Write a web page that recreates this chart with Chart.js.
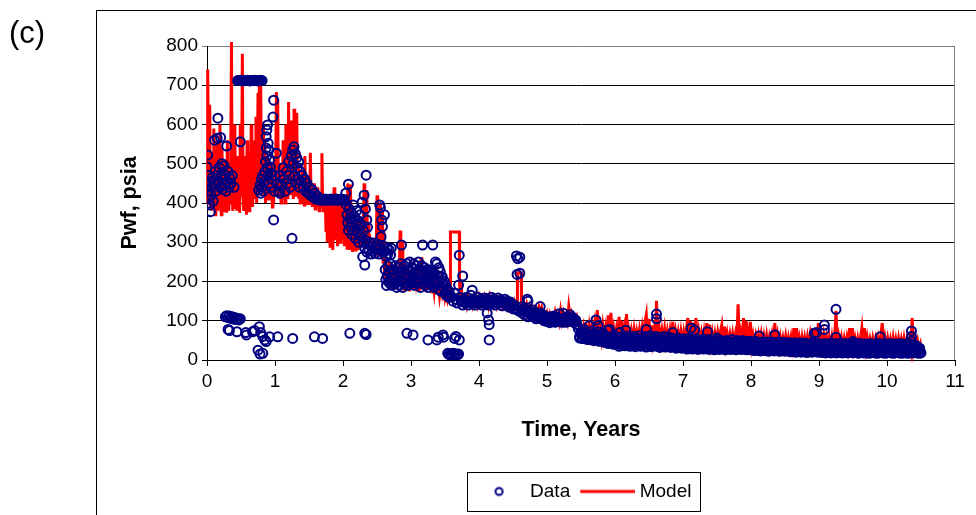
<!DOCTYPE html>
<html>
<head>
<meta charset="utf-8">
<script src="https://cdn.jsdelivr.net/npm/chart.js@4/dist/chart.umd.min.js"></script>
<style>
  body { margin: 0; background: #fff; }
  canvas { display: block; }
</style>
</head>
<body>
<canvas id="pwfChart" width="976" height="515"></canvas>
<script>
// Measured bottomhole pressure, [time in years, Pwf in psia]
const dataEarly = [
  [0.00,445],[0.00,492],[0.01,522],[0.02,470],[0.02,430],[0.03,410],[0.04,395],[0.05,378],[0.05,455],[0.06,420],
  [0.07,440],[0.08,465],[0.09,405],[0.10,450],[0.11,560],[0.12,480],[0.13,430],[0.14,470],[0.15,565],[0.16,616],
  [0.17,455],[0.18,490],[0.19,440],[0.20,567],[0.21,470],[0.22,500],[0.23,435],[0.24,460],[0.25,495],[0.26,445],
  [0.27,470],[0.28,430],[0.29,545],[0.30,455],[0.31,480],[0.32,440],[0.33,465],[0.35,450],[0.37,470],[0.40,440],
  [0.49,556],
  [0.45,712],[0.47,712],[0.49,713],[0.51,712],[0.53,711],[0.55,712],[0.57,712],[0.59,713],[0.61,712],[0.63,711],
  [0.65,712],[0.67,712],[0.69,712],[0.71,713],[0.73,712],[0.75,711],[0.77,712],[0.79,713],[0.81,712],
  [0.76,433],[0.78,445],[0.79,425],[0.80,460],[0.81,440],[0.82,470],[0.83,430],[0.84,455],[0.85,480],[0.86,505],
  [0.87,569],[0.87,540],[0.88,586],[0.88,520],[0.89,599],[0.89,490],[0.90,552],[0.90,470],[0.91,535],[0.91,450],
  [0.92,509],[0.93,492],[0.94,476],[0.95,440],[0.96,460],[0.97,619],[0.98,662],[0.98,357],[0.99,430],[1.00,470],
  [1.02,527],[1.03,450],[1.05,430],[1.07,425],
  [1.08,470],[1.10,445],[1.12,490],[1.13,460],[1.15,430],[1.17,480],[1.18,450],[1.20,505],[1.21,470],[1.22,440],
  [1.24,520],[1.25,310],[1.26,535],[1.27,500],[1.28,543],[1.29,470],[1.30,525],[1.31,450],[1.32,515],[1.33,490],
  [1.34,460],[1.35,505],[1.36,440],[1.37,480],[1.38,455],[1.40,470],[1.42,440],[1.44,460],[1.45,430],[1.47,450],
  [1.49,425],[1.50,440],[1.52,420],[1.54,435],[1.56,415],[1.58,425],[1.60,410],[1.62,418],
  [1.64,408],[1.66,410],[1.68,407],[1.70,409],[1.72,408],[1.74,410],[1.76,407],[1.78,409],[1.80,408],[1.82,410],
  [1.84,407],[1.86,409],[1.88,408],[1.90,410],[1.92,407],[1.94,409],[1.96,408],[1.98,410],[2.00,407],[2.02,409]
];

const dataMid = [
  [2.04,425],[2.05,395],[2.06,370],[2.07,350],[2.08,448],[2.08,330],[2.09,385],[2.10,360],[2.11,340],[2.12,375],
  [2.13,320],[2.14,350],[2.15,395],[2.16,330],[2.17,365],[2.18,310],[2.19,345],[2.20,380],[2.21,325],[2.22,355],
  [2.23,300],[2.24,340],[2.25,370],[2.26,315],[2.27,345],[2.28,402],[2.29,263],[2.30,330],[2.31,420],[2.32,242],
  [2.33,385],[2.34,471],[2.35,357],[2.36,338],
  [2.30,300],[2.32,285],[2.33,305],[2.35,275],[2.36,295],[2.38,280],[2.39,300],[2.41,270],[2.42,290],[2.44,278],
  [2.45,298],[2.47,272],[2.48,288],[2.50,280],[2.51,295],[2.53,270],[2.54,395],[2.55,388],[2.55,285],[2.56,314],
  [2.57,357],[2.58,340],[2.58,275],[2.60,290],[2.61,370],[2.62,278],[2.63,265],[2.65,285],[2.66,270],[2.68,280],
  [2.70,268],
  [2.62,230],[2.63,205],[2.64,190],[2.65,215],[2.66,240],[2.67,200],[2.68,225],[2.69,195],[2.70,245],[2.71,210],
  [2.71,285],[2.72,190],[2.73,230],[2.74,205],[2.75,220],[2.76,195],[2.77,240],[2.78,210],[2.79,185],[2.80,225],
  [2.81,200],[2.82,235],[2.83,190],[2.84,215],[2.85,245],[2.86,293],[2.86,200],[2.87,225],[2.88,185],[2.89,210],
  [2.90,240],[2.91,195],[2.92,220],[2.93,205],[2.94,245],[2.95,190],[2.96,230],[2.97,210],[2.98,250],[2.99,195],
  [3.00,225],[3.01,200],[3.02,235],[3.03,215],[3.04,245],[3.05,190],[3.06,225],[3.07,205],[3.08,240],[3.09,195],
  [3.10,220],[3.11,250],[3.12,200],[3.13,230],[3.14,185],[3.15,215],[3.16,240],[3.17,293],[3.17,195],[3.18,225],
  [3.19,205],[3.20,235],[3.21,190],[3.22,215],[3.23,200],[3.24,230],[3.25,185],[3.26,210],[3.27,225],[3.28,195],
  [3.29,215],[3.30,230],[3.31,190],[3.32,293],[3.32,210],[3.33,222],[3.34,185],[3.35,205],[3.36,250],[3.37,195],
  [3.38,245],[3.39,215],[3.40,180],[3.41,235],[3.42,200],[3.43,225],[3.44,175],[3.45,210],[3.46,212],[3.47,195],
  [3.48,185],[3.49,200],[3.50,170],[3.51,190],[3.52,165],[3.53,180],[3.55,160],[3.56,175],
  [3.57,165],[3.60,160],[3.62,150],[3.64,170],[3.66,155],[3.68,145],[3.70,191],[3.71,267],[3.72,160],[3.74,150],
  [3.76,214],[3.76,140],[3.78,155],[3.80,145],[3.82,160],[3.84,140],[3.86,150],[3.88,165],[3.90,178],[3.90,145],
  [3.92,155],[3.94,140],[3.96,150],[3.98,160],[4.00,145],[4.02,155],[4.04,140],[4.06,150],[4.08,158],[4.10,145],
  [4.12,120],[4.12,155],[4.14,102],[4.14,140],[4.15,90],[4.16,150],[4.18,160],[4.20,145],[4.22,155],[4.24,140],
  [4.26,150],[4.28,158],[4.30,145],[4.32,152],[4.34,138],[4.36,148],[4.38,155],[4.40,142],[4.42,150],[4.44,135],
  [4.46,148],[4.48,140],[4.50,130],
  [4.52,140],[4.54,130],[4.55,265],[4.56,218],[4.57,258],[4.58,125],[4.60,262],[4.60,221],[4.62,135],[4.63,120],
  [4.65,130],[4.67,115],[4.69,125],[4.71,155],[4.72,150],[4.72,110],[4.74,125],[4.76,115],[4.78,128],[4.80,110],
  [4.82,122],[4.84,105],[4.86,118],[4.88,108],[4.90,136],[4.90,120],[4.92,105],[4.94,115],[4.96,100],[4.98,112],
  [5.00,98],[5.02,108],[5.04,95],[5.06,110],[5.08,100],[5.10,112],[5.12,96],[5.14,108],[5.16,98],[5.18,118],
  [5.20,104],[5.22,96],[5.24,119],[5.26,106],[5.28,96],[5.30,110],[5.32,100],[5.34,115],[5.36,98],[5.38,108],
  [5.40,95],[5.42,102],[5.44,90],
  [3.75,150],[3.79,148],[3.83,151],[3.87,146],[3.91,150],[3.95,147],[3.99,151],[4.03,148],[4.07,146],[4.11,150],
  [4.15,147],[4.19,151],[4.23,148],[4.27,145],[4.31,149],[4.35,146],[4.39,148],[4.43,143],[4.47,145],[4.51,138],
  [4.63,128],[4.67,124],[4.71,122],[4.75,120],[4.79,118],[4.83,114],[4.87,113],[4.91,110],[4.95,108],[4.99,105],
  [5.03,103],[5.07,104],[5.11,104],[5.15,103],[5.19,106],[5.23,104],[5.27,102],[5.31,104],[5.35,106],[5.39,102],
  [5.43,98]
];

const dataLate = [
  [5.46,80],[5.48,60],[5.50,72],[5.52,55],[5.54,78],[5.56,58],[5.58,70],[5.60,52],[5.62,87],[5.62,66],
  [5.64,55],[5.66,74],[5.68,50],[5.70,68],[5.72,102],[5.72,56],[5.74,72],[5.75,88],[5.76,48],[5.78,65],
  [5.80,52],[5.82,70],[5.84,45],[5.86,62],[5.88,50],[5.89,76],[5.90,42],[5.92,78],[5.92,58],[5.94,45],
  [5.96,60],[5.98,40],
  [6.00,62],[6.02,40],[6.04,55],[6.06,35],[6.07,70],[6.08,58],[6.10,38],[6.12,60],[6.14,36],[6.16,76],
  [6.16,55],[6.18,40],[6.20,62],[6.22,35],[6.24,58],[6.26,38],[6.28,60],[6.30,34],[6.32,56],[6.34,38],
  [6.36,62],[6.38,35],[6.40,55],[6.42,37],[6.44,60],[6.46,78],[6.46,33],[6.48,58],[6.50,36],[6.52,62],
  [6.54,34],[6.56,55],[6.58,38],[6.60,60],[6.61,117],[6.61,105],[6.62,35],[6.64,58],[6.66,32],[6.68,56],
  [6.70,36],[6.72,60],[6.74,33],[6.76,54],[6.78,35],[6.80,58],[6.82,32],[6.84,55],[6.85,70],[6.86,34],
  [6.88,52],[6.90,30],[6.92,56],[6.94,33],[6.96,52],[6.98,30],
  [7.00,54],[7.02,31],[7.04,50],[7.06,28],[7.08,55],[7.10,30],[7.12,81],[7.12,52],[7.14,28],[7.16,50],
  [7.17,76],[7.18,30],[7.20,53],[7.22,27],[7.24,50],[7.26,30],[7.28,52],[7.30,28],[7.32,48],[7.34,30],
  [7.36,72],[7.36,52],[7.38,27],[7.40,50],[7.42,29],[7.44,48],[7.46,26],[7.48,52],[7.50,56],[7.50,28],
  [7.52,48],[7.54,27],[7.56,50],[7.58,29],[7.60,47],[7.62,26],[7.64,50],[7.66,28],[7.68,46],[7.70,27],
  [7.72,52],[7.74,28],[7.76,48],[7.78,26],[7.80,50],[7.82,28],[7.84,47],[7.86,27],[7.88,50],[7.90,28],
  [7.92,46],[7.94,26],[7.96,48],[7.98,27],
  [8.00,48],[8.02,25],[8.04,45],[8.06,24],[8.08,47],[8.10,25],[8.12,61],[8.12,44],[8.14,23],[8.16,46],
  [8.18,25],[8.20,43],[8.22,24],[8.24,46],[8.26,22],[8.28,44],[8.30,25],[8.32,45],[8.34,23],[8.35,64],
  [8.36,44],[8.38,24],[8.40,46],[8.42,22],[8.44,43],[8.46,25],[8.48,45],[8.50,22],[8.52,43],[8.54,24],
  [8.56,44],[8.58,21],[8.60,42],[8.62,23],[8.64,44],[8.66,20],[8.68,42],[8.70,22],[8.72,44],[8.74,20],
  [8.76,41],[8.78,22],[8.80,43],[8.82,19],[8.84,40],[8.86,21],[8.88,42],[8.90,20],[8.92,45],[8.93,68],
  [8.94,22],[8.96,70],[8.96,40],[8.98,20],
  [9.00,42],[9.02,20],[9.04,40],[9.06,19],[9.08,89],[9.08,78],[9.08,42],[9.10,18],[9.12,40],[9.14,20],
  [9.16,42],[9.18,18],[9.20,40],[9.22,19],[9.24,42],[9.25,129],[9.25,58],[9.26,18],[9.28,40],[9.30,20],
  [9.32,43],[9.34,18],[9.36,40],[9.38,19],[9.40,42],[9.42,18],[9.44,40],[9.46,20],[9.48,41],[9.50,47],
  [9.50,18],[9.52,42],[9.54,19],[9.56,40],[9.58,17],[9.60,42],[9.62,19],[9.64,40],[9.66,18],[9.68,41],
  [9.70,18],[9.72,40],[9.74,17],[9.76,42],[9.78,19],[9.80,40],[9.82,18],[9.84,41],[9.86,17],[9.88,42],
  [9.90,59],[9.90,19],[9.92,40],[9.94,18],[9.96,42],[9.98,17],[10.00,40],[10.02,19],[10.04,42],[10.06,18],
  [10.08,40],[10.10,17],[10.12,41],[10.14,19],[10.16,40],[10.18,18],[10.20,42],[10.22,17],[10.24,40],[10.26,19],
  [10.28,41],[10.30,17],[10.32,42],[10.34,18],[10.36,74],[10.36,60],[10.36,48],[10.36,40],[10.38,18],[10.40,38],
  [10.42,20],[10.44,35],[10.46,17],[10.48,30],[10.50,18]
];

// Readings filling the late band between its upper and lower edges
const dataBand = [
  [5.50,66],[5.54,64],[5.58,62],[5.62,60],[5.66,60],[5.70,58],[5.74,58],[5.78,56],[5.82,56],[5.86,54],
  [5.90,52],[5.94,52],[5.98,50],
  [6.02,48],[6.06,46],[6.10,49],[6.14,47],[6.18,50],[6.22,46],[6.26,48],[6.30,45],[6.34,49],[6.38,47],
  [6.42,46],[6.46,48],[6.50,45],[6.54,47],[6.58,49],[6.62,46],[6.66,44],[6.70,47],[6.74,45],[6.78,44],
  [6.82,46],[6.86,44],[6.90,42],[6.94,44],[6.98,42],
  [7.02,42],[7.06,40],[7.10,43],[7.14,40],[7.18,41],[7.22,39],[7.26,41],[7.30,39],[7.34,40],[7.38,38],
  [7.42,40],[7.46,37],[7.50,40],[7.54,38],[7.58,39],[7.62,37],[7.66,39],[7.70,36],[7.74,39],[7.78,37],
  [7.82,38],[7.86,36],[7.90,38],[7.94,36],[7.98,37],
  [8.02,35],[8.06,34],[8.10,35],[8.14,33],[8.18,35],[8.22,33],[8.26,34],[8.30,33],[8.34,34],[8.38,32],
  [8.42,34],[8.46,32],[8.50,33],[8.54,32],[8.58,33],[8.62,31],[8.66,33],[8.70,31],[8.74,32],[8.78,30],
  [8.82,32],[8.86,30],[8.90,32],[8.94,31],[8.98,30],
  [9.02,30],[9.06,29],[9.10,30],[9.14,29],[9.18,30],[9.22,28],[9.26,30],[9.30,29],[9.34,30],[9.38,28],
  [9.42,29],[9.46,28],[9.50,30],[9.54,28],[9.58,29],[9.62,28],[9.66,30],[9.70,28],[9.74,29],[9.78,28],
  [9.82,29],[9.86,27],[9.90,29],[9.94,28],[9.98,29],[10.02,28],[10.06,29],[10.10,27],[10.14,29],[10.18,28],
  [10.22,29],[10.26,27],[10.30,28],[10.34,27],[10.38,28],[10.42,26],[10.46,25]
];

const dataBandUpper = [
  [5.50,70],[5.54,68],[5.58,67],[5.62,65],[5.66,66],[5.70,63],[5.74,64],[5.78,62],[5.82,61],[5.86,60],
  [5.90,58],[5.94,57],[5.98,56],
  [6.02,55],[6.06,53],[6.10,55],[6.14,52],[6.18,54],[6.22,52],[6.26,53],[6.30,51],[6.34,53],[6.38,50],
  [6.42,52],[6.46,51],[6.50,50],[6.54,52],[6.58,50],[6.62,51],[6.66,49],[6.70,50],[6.74,48],[6.78,50],
  [6.82,48],[6.86,49],[6.90,47],[6.94,48],[6.98,46],
  [7.02,47],[7.06,45],[7.10,47],[7.14,45],[7.18,46],[7.22,44],[7.26,46],[7.30,44],[7.34,45],[7.38,43],
  [7.42,45],[7.46,43],[7.50,45],[7.54,43],[7.58,44],[7.62,42],[7.66,44],[7.70,42],[7.74,43],[7.78,42],
  [7.82,43],[7.86,41],[7.90,43],[7.94,41],[7.98,42],
  [8.02,40],[8.06,39],[8.10,40],[8.14,38],[8.18,40],[8.22,38],[8.26,39],[8.30,38],[8.34,39],[8.38,37],
  [8.42,39],[8.46,37],[8.50,38],[8.54,37],[8.58,38],[8.62,36],[8.66,38],[8.70,36],[8.74,37],[8.78,36],
  [8.82,37],[8.86,35],[8.90,37],[8.94,36],[8.98,35],
  [9.02,36],[9.06,35],[9.10,36],[9.14,35],[9.18,36],[9.22,34],[9.26,35],[9.30,34],[9.34,36],[9.38,34],
  [9.42,35],[9.46,34],[9.50,35],[9.54,33],[9.58,35],[9.62,34],[9.66,35],[9.70,33],[9.74,35],[9.78,34],
  [9.82,35],[9.86,33],[9.90,35],[9.94,34],[9.98,34],[10.02,33],[10.06,35],[10.10,33],[10.14,34],[10.18,33],
  [10.22,34],[10.26,32],[10.30,34],[10.34,32],[10.38,33],[10.42,31],[10.46,30]
];

const dataBandLower = [
  [5.48,56],[5.52,55],[5.56,54],[5.60,53],[5.64,52],[5.68,51],[5.72,50],[5.76,50],[5.80,48],[5.84,47],
  [5.88,46],[5.92,45],[5.96,44],
  [6.00,43],[6.04,42],[6.08,43],[6.12,41],[6.16,42],[6.20,40],[6.24,41],[6.28,40],[6.32,41],[6.36,39],
  [6.40,40],[6.44,39],[6.48,40],[6.52,38],[6.56,39],[6.60,38],[6.64,39],[6.68,37],[6.72,38],[6.76,36],
  [6.80,37],[6.84,36],[6.88,36],[6.92,35],[6.96,36],
  [7.00,35],[7.04,34],[7.08,35],[7.12,33],[7.16,34],[7.20,33],[7.24,34],[7.28,32],[7.32,33],[7.36,32],
  [7.40,33],[7.44,31],[7.48,33],[7.52,31],[7.56,32],[7.60,31],[7.64,32],[7.68,30],[7.72,32],[7.76,30],
  [7.80,31],[7.84,30],[7.88,31],[7.92,29],[7.96,30],
  [8.00,29],[8.04,28],[8.08,29],[8.12,27],[8.16,29],[8.20,27],[8.24,28],[8.28,27],[8.32,28],[8.36,26],
  [8.40,28],[8.44,26],[8.48,27],[8.52,26],[8.56,27],[8.60,25],[8.64,27],[8.68,25],[8.72,26],[8.76,25],
  [8.80,26],[8.84,24],[8.88,26],[8.92,25],[8.96,24],
  [9.00,25],[9.04,24],[9.08,25],[9.12,23],[9.16,24],[9.20,23],[9.24,24],[9.28,23],[9.32,24],[9.36,22],
  [9.40,24],[9.44,22],[9.48,23],[9.52,22],[9.56,23],[9.60,22],[9.64,23],[9.68,22],[9.72,23],[9.76,21],
  [9.80,23],[9.84,22],[9.88,23],[9.92,21],[9.96,22],[10.00,21],[10.04,23],[10.08,21],[10.12,22],[10.16,21],
  [10.20,22],[10.24,21],[10.28,22],[10.32,20],[10.36,22],[10.40,20],[10.44,21],[10.48,20]
];

// Low readings scattered under the main trend
const dataLow = [
  [0.27,110],[0.29,113],[0.31,108],[0.33,112],[0.35,106],[0.37,110],[0.39,104],[0.41,108],[0.43,103],[0.45,106],
  [0.47,102],[0.49,105],[0.33,75],[0.31,78],[0.44,72],[0.58,64],[0.57,70],[0.67,72],[0.70,75],[0.77,85],
  [0.79,70],[0.82,60],[0.75,25],[0.82,17],[0.78,15],[0.85,51],[0.87,47],[0.92,59],[1.04,59],[1.26,55],
  [1.58,59],[1.70,55],[2.10,68],[2.32,68],[2.34,65],[2.94,68],[3.03,64],[3.25,51],[3.38,51],[3.40,58],
  [3.47,64],[3.48,58],[3.64,55],[3.66,60],[3.71,51],[4.15,51],
  [3.54,17],[3.56,14],[3.58,16],[3.60,13],[3.62,17],[3.64,14],[3.66,16],[3.68,13],[3.70,15]
];

// Simulated bottomhole pressure, [time in years, Pwf in psia]
const modelEarly = [
  [0.00,400],[0.01,740],[0.02,560],[0.03,420],[0.04,650],[0.05,390],[0.06,480],[0.07,380],[0.08,520],[0.09,400],
  [0.10,590],[0.11,450],[0.12,370],[0.13,500],[0.14,410],[0.15,560],[0.16,380],[0.17,470],[0.18,395],[0.19,600],
  [0.20,420],[0.21,370],[0.22,540],[0.23,400],[0.24,470],[0.25,380],[0.26,510],[0.27,395],[0.28,460],[0.29,375],
  [0.30,560],[0.31,410],[0.32,380],[0.33,480],[0.34,400],[0.35,540],[0.36,810],[0.37,420],[0.38,380],[0.39,500],
  [0.40,410],[0.41,600],[0.42,385],[0.43,470],[0.44,380],[0.45,520],[0.46,390],[0.47,480],[0.48,375],[0.49,600],
  [0.50,420],[0.51,500],[0.52,780],[0.53,430],[0.54,380],[0.55,520],[0.56,400],[0.57,470],[0.58,370],[0.59,560],
  [0.60,410],[0.61,450],[0.62,380],[0.63,530],[0.64,400],[0.65,600],[0.66,420],[0.67,390],[0.68,500],[0.69,410],
  [0.70,560],[0.71,430],[0.72,620],[0.73,400],[0.74,480],[0.75,680],[0.76,420],[0.77,720],[0.78,450],[0.79,700],
  [0.80,430],[0.81,520],[0.82,440],[0.83,600],[0.84,420],[0.85,560],[0.86,400],[0.87,480],[0.88,430],[0.89,520],
  [0.90,410],[0.91,470],[0.92,420],[0.93,500],[0.94,410],[0.95,460],[0.96,390],[0.97,480],[0.98,400],[0.99,520],
  [1.00,420],[1.01,470],[1.02,683],[1.03,430],[1.04,665],[1.05,420],[1.06,500],[1.07,410],[1.08,460],[1.09,400],
  [1.10,480],[1.11,420],[1.12,560],[1.13,410],[1.14,470],[1.15,400],[1.16,600],[1.17,430],[1.18,480],[1.19,410],
  [1.20,657],[1.21,440],[1.22,520],[1.23,420],[1.24,610],[1.25,430],[1.26,500],[1.27,410],[1.28,640],[1.29,440],
  [1.30,560],[1.31,420],[1.32,630],[1.33,430],[1.34,490],[1.35,410],[1.36,470],[1.37,400],[1.38,450],[1.39,410],
  [1.40,480],[1.41,400],[1.42,460],[1.43,395],[1.44,520],[1.45,410],[1.46,450],[1.47,395],[1.48,470],[1.49,400],
  [1.50,430],[1.51,395],[1.52,528],[1.53,410],[1.54,450],[1.55,390],[1.56,430],[1.57,400],[1.58,450],[1.59,385],
  [1.60,420],[1.61,390],[1.62,440],[1.63,395],[1.64,410],[1.65,380],[1.66,420],[1.67,390],[1.68,410],[1.69,527],
  [1.70,400],[1.71,380],[1.72,410],[1.73,395],[1.74,400],[1.75,330],[1.76,400],[1.77,300],[1.78,405],[1.79,350],
  [1.80,410],[1.81,290],[1.82,400],[1.83,360],[1.84,405],[1.85,280],[1.86,400],[1.87,440],[1.88,305],[1.89,395],
  [1.90,340],[1.91,400],[1.92,290],[1.93,390],[1.94,330],[1.95,400],[1.96,300],[1.97,380],[1.98,340],[1.99,400],
  [2.00,310],[2.01,380],[2.02,290]
];

const modelMid = [
  [2.03,420],[2.04,300],[2.05,380],[2.06,285],[2.07,450],[2.08,310],[2.09,360],[2.10,280],[2.11,447],[2.12,300],
  [2.13,350],[2.14,275],[2.15,330],[2.16,290],[2.17,360],[2.18,280],[2.19,320],[2.20,300],[2.21,340],[2.22,280],
  [2.23,310],[2.24,350],[2.25,290],[2.26,330],[2.27,300],[2.28,360],[2.29,290],[2.30,340],[2.31,450],[2.32,300],
  [2.33,380],[2.34,310],[2.35,433],[2.36,300],[2.37,350],[2.38,290],[2.39,320],[2.40,280],[2.41,310],[2.42,275],
  [2.43,300],[2.44,270],[2.45,305],[2.46,280],[2.47,290],[2.48,265],[2.49,300],[2.50,420],[2.51,280],[2.52,300],
  [2.53,270],[2.54,290],[2.55,400],[2.56,350],[2.57,300],[2.58,380],[2.59,250],[2.60,330],[2.61,220],[2.62,260],
  [2.63,200],[2.64,240],[2.65,190],[2.66,230],[2.67,185],[2.68,250],[2.69,200],[2.70,230],[2.71,190],[2.72,245],
  [2.73,195],[2.74,225],[2.75,185],[2.76,240],[2.77,200],[2.78,220],[2.79,180],[2.80,235],[2.81,195],[2.82,215],
  [2.83,240],[2.84,330],[2.85,250],[2.86,200],[2.87,300],[2.88,190],[2.89,225],[2.90,180],[2.91,240],[2.92,195],
  [2.93,220],[2.94,185],[2.95,235],[2.96,200],[2.97,215],[2.98,175],[2.99,230],[3.00,190],[3.02,220],[3.04,180],
  [3.06,235],[3.08,195],[3.10,215],[3.12,175],[3.14,230],[3.15,262],[3.16,190],[3.17,240],[3.18,180],[3.20,220],
  [3.22,175],[3.24,210],[3.26,180],[3.28,225],[3.30,170],[3.32,205],[3.34,175],[3.36,215],[3.38,170],[3.40,200],
  [3.42,165],[3.44,195],[3.46,170],[3.48,190],[3.50,160],[3.52,180],[3.54,155],[3.56,170],[3.575,160],[3.58,326],
  [3.71,326],[3.715,190],[3.73,160],[3.74,196],[3.75,150],[3.76,165],[3.78,145],[3.80,158],[3.82,140],[3.84,160],
  [3.86,145],[3.88,155],[3.90,140],[3.92,158],[3.94,142],[3.96,155],[3.98,140],[4.00,160],[4.02,145],[4.04,155],
  [4.06,140],[4.08,158],[4.10,142],[4.12,155],[4.14,138],[4.16,160],[4.18,145],[4.20,155],[4.22,140],[4.24,152],
  [4.26,138],[4.28,155],[4.30,142],[4.32,150],[4.34,138],[4.36,152],[4.38,140],[4.40,148],[4.42,135],[4.44,150],
  [4.46,138],[4.48,145],[4.50,135],[4.52,148],[4.54,135],[4.56,150],[4.565,222],[4.62,222],[4.625,140],[4.64,130],
  [4.66,145],[4.68,125],[4.70,140],[4.72,120],[4.74,135],[4.76,118],[4.78,130],[4.80,115],[4.82,128],[4.84,112],
  [4.86,125],[4.88,135],[4.90,120],[4.92,132],[4.94,110],[4.96,120],[4.98,105],[5.00,118],[5.02,100],[5.04,115],
  [5.06,98],[5.08,112],[5.10,100],[5.12,120],[5.14,102],[5.16,115],[5.18,98],[5.20,125],[5.22,100],[5.24,118],
  [5.26,100],[5.28,112],[5.30,98],[5.32,135],[5.34,105],[5.36,118],[5.38,100],[5.40,110],[5.42,95],[5.44,108],
  [5.46,90],[5.48,85]
];

const modelLate = [
  [5.50,80],[5.52,64],[5.54,85],[5.56,63],[5.58,82],[5.60,63],[5.62,88],[5.64,62],[5.66,85],[5.68,60],
  [5.70,90],[5.72,60],[5.74,127],[5.76,62],[5.78,95],[5.80,58],[5.82,88],[5.84,57],[5.86,82],[5.88,56],
  [5.90,114],[5.92,58],[5.94,120],[5.96,55],[5.98,80],[6.00,54],[6.02,78],[6.04,52],[6.06,110],[6.08,53],
  [6.10,100],[6.12,52],[6.14,80],[6.16,53],[6.17,117],[6.18,52],[6.20,76],[6.22,50],[6.24,74],[6.26,51],
  [6.28,78],[6.30,50],[6.32,72],[6.34,51],[6.36,76],[6.38,50],[6.40,80],[6.42,50],[6.44,95],[6.46,115],
  [6.48,50],[6.50,105],[6.52,50],[6.54,88],[6.56,49],[6.58,78],[6.60,50],[6.61,151],[6.63,50],[6.65,80],
  [6.67,48],[6.69,74],[6.71,48],[6.73,78],[6.75,47],[6.77,72],[6.79,47],[6.81,74],[6.83,46],[6.85,97],
  [6.87,46],[6.89,72],[6.91,46],[6.93,70],[6.95,45],[6.97,72],[6.99,45],[7.01,70],[7.03,45],[7.05,76],
  [7.07,107],[7.09,45],[7.11,100],[7.13,45],[7.15,95],[7.17,44],[7.19,107],[7.21,44],[7.23,72],[7.25,44],
  [7.27,68],[7.29,43],[7.31,70],[7.33,43],[7.35,94],[7.37,43],[7.39,90],[7.41,43],[7.43,68],[7.45,42],
  [7.47,66],[7.49,42],[7.51,68],[7.53,42],[7.55,72],[7.57,89],[7.59,42],[7.61,85],[7.63,41],[7.65,66],
  [7.67,41],[7.69,64],[7.71,41],[7.73,66],[7.75,41],[7.77,64],[7.79,40],[7.81,142],[7.83,40],[7.85,66],
  [7.87,40],[7.89,107],[7.91,40],[7.93,100],[7.95,40],[7.97,70],[7.99,97],[8.01,39],[8.03,62],[8.05,38],
  [8.07,60],[8.09,38],[8.11,62],[8.13,38],[8.15,64],[8.17,37],[8.19,60],[8.21,37],[8.23,62],[8.25,37],
  [8.27,58],[8.29,37],[8.31,62],[8.33,36],[8.35,94],[8.37,36],[8.39,62],[8.41,36],[8.43,58],[8.45,36],
  [8.47,56],[8.49,36],[8.51,60],[8.53,35],[8.55,56],[8.57,35],[8.59,58],[8.61,35],[8.63,81],[8.65,35],
  [8.67,81],[8.69,35],[8.71,56],[8.73,35],[8.75,58],[8.77,34],[8.79,56],[8.81,34],[8.83,58],[8.85,34],
  [8.87,62],[8.89,34],[8.91,81],[8.93,34],[8.95,81],[8.97,34],[8.99,94],[9.01,34],[9.03,60],[9.05,34],
  [9.07,62],[9.09,34],[9.11,58],[9.13,34],[9.15,56],[9.17,33],[9.19,58],[9.21,33],[9.23,56],[9.25,125],
  [9.27,33],[9.29,58],[9.31,33],[9.33,56],[9.35,33],[9.37,54],[9.39,33],[9.41,56],[9.43,33],[9.45,81],
  [9.47,33],[9.49,81],[9.51,33],[9.53,54],[9.55,32],[9.57,54],[9.59,32],[9.61,56],[9.63,81],[9.65,32],
  [9.67,81],[9.69,32],[9.71,56],[9.73,32],[9.75,52],[9.77,32],[9.79,54],[9.81,32],[9.83,52],[9.85,32],
  [9.87,54],[9.89,32],[9.91,62],[9.93,94],[9.95,32],[9.97,56],[9.99,32],[10.01,54],[10.03,32],[10.05,52],
  [10.07,31],[10.09,56],[10.11,31],[10.13,52],[10.15,31],[10.17,54],[10.19,31],[10.21,52],[10.23,31],[10.25,54],
  [10.27,31],[10.29,50],[10.31,30],[10.33,52],[10.35,30],[10.37,107],[10.39,30],[10.41,52],[10.43,30],[10.45,48],
  [10.47,28],[10.49,40],[10.50,25]
];

const seriesNames = ['Data', 'Model'];
const xTitle = 'Time, Years';
const yTitle = 'Pwf, psia';

const toXY = pts => pts.map(([x, y]) => ({ x: x, y: y }));
const dataPoints = toXY([...dataEarly, ...dataMid, ...dataLate, ...dataBand, ...dataBandUpper, ...dataBandLower, ...dataLow]);
const modelPoints = toXY([...modelEarly, ...modelMid, ...modelLate]);

const NAVY = '#000080';
const RED = '#ff0000';

Chart.defaults.font.family = '"Liberation Sans", Arial, sans-serif';
Chart.defaults.color = '#000';

// small canvases used as legend symbols (60 wide, drawn over a 50 wide slot)
function legendSymbol(kind) {
  const c = document.createElement('canvas');
  c.width = 60;
  c.height = 12;
  const g = c.getContext('2d');
  if (kind === 'circle') {
    g.strokeStyle = NAVY;
    g.lineWidth = 2;
    g.beginPath();
    g.arc(33.5, 6, 3.5, 0, Math.PI * 2);
    g.stroke();
  } else {
    g.strokeStyle = RED;
    g.lineWidth = 3;
    g.beginPath();
    g.moveTo(5, 6);
    g.lineTo(60, 6);
    g.stroke();
  }
  return c;
}
const symbols = [legendSymbol('circle'), legendSymbol('line')];

// white page, outer frame, panel letter and plot frame
const frame = {
  id: 'frame',
  beforeDraw(chart) {
    const ctx = chart.ctx;
    ctx.save();
    ctx.fillStyle = '#fff';
    ctx.fillRect(0, 0, chart.width, chart.height);
    ctx.strokeStyle = '#000';
    ctx.lineWidth = 1;
    ctx.strokeRect(96.5, 10.5, 1000, 600);
    ctx.fillStyle = '#000';
    ctx.font = '31px "Liberation Sans", Arial, sans-serif';
    ctx.textBaseline = 'middle';
    ctx.fillText('(c)', 9, 34);
    ctx.restore();
  },
  afterDraw(chart) {
    const ctx = chart.ctx;
    const a = chart.chartArea;
    ctx.save();
    ctx.strokeStyle = '#808080';
    ctx.lineWidth = 1;
    ctx.beginPath();
    ctx.moveTo(Math.round(a.right) - 0.5, a.top);
    ctx.lineTo(Math.round(a.right) - 0.5, a.bottom);
    ctx.stroke();
    // border around the legend
    const boxes = chart.legend.legendHitBoxes;
    if (boxes && boxes.length) {
      const first = boxes[0];
      const last = boxes[boxes.length - 1];
      const left = Math.round(first.left - 4) + 0.5;
      const right = Math.round(last.left + last.width + 9) + 0.5;
      const top = Math.round(first.top - 10) + 0.5;
      const bottom = Math.round(first.top + first.height + 10) + 0.5;
      ctx.strokeStyle = '#000';
      ctx.strokeRect(left, top, right - left, bottom - top);
    }
    ctx.restore();
  }
};

new Chart(document.getElementById('pwfChart'), {
  type: 'scatter',
  data: {
    datasets: [
      {
        label: seriesNames[0],
        data: dataPoints,
        order: 0,
        showLine: false,
        pointStyle: 'circle',
        pointRadius: 4.5,
        pointBorderWidth: 2,
        borderColor: NAVY,
        backgroundColor: 'rgba(0,0,0,0)'
      },
      {
        label: seriesNames[1],
        data: modelPoints,
        order: 1,
        showLine: true,
        borderColor: RED,
        backgroundColor: RED,
        borderWidth: 3,
        pointRadius: 0,
        tension: 0,
        clip: false
      }
    ]
  },
  options: {
    responsive: false,
    animation: false,
    events: [],
    layout: { padding: { left: 100, right: 21, top: 46, bottom: 4 } },
    plugins: {
      tooltip: { enabled: false },
      legend: {
        position: 'bottom',
        fullSize: false,
        labels: {
          font: { size: 19 },
          color: '#000',
          usePointStyle: true,
          pointStyleWidth: 50,
          padding: 10,
          generateLabels(chart) {
            return chart.data.datasets.map((ds, i) => ({
              text: ds.label,
              pointStyle: symbols[i],
              datasetIndex: i,
              hidden: false,
              lineWidth: 0,
              strokeStyle: 'rgba(0,0,0,0)',
              fillStyle: 'rgba(0,0,0,0)',
              fontColor: '#000'
            }));
          }
        }
      }
    },
    scales: {
      x: {
        type: 'linear',
        min: 0,
        max: 11,
        afterFit(scale) { scale.height = 112; },
        ticks: { stepSize: 1, font: { size: 19 }, color: '#000', padding: 4, maxRotation: 0 },
        grid: { drawOnChartArea: false, drawTicks: true, tickLength: 6, color: '#000' },
        border: { display: true, color: '#000', width: 1 },
        title: { display: true, text: xTitle, font: { size: 21.5, weight: 'bold' }, color: '#000', padding: { top: 0, bottom: 29 } }
      },
      y: {
        type: 'linear',
        min: 0,
        max: 800,
        afterFit(scale) { scale.width = 107; },
        ticks: { stepSize: 100, font: { size: 19 }, color: '#000', padding: 4 },
        grid: {
          color: ctx => (ctx.tick && ctx.tick.value === 800 ? '#808080' : '#000'),
          tickLength: 5,
          drawTicks: true
        },
        border: { display: true, color: '#000', width: 1 },
        title: { display: true, text: yTitle, font: { size: 21.5, weight: 'bold' }, color: '#000', padding: { top: 17, bottom: 0 } }
      }
    }
  },
  plugins: [frame]
});
</script>
</body>
</html>
